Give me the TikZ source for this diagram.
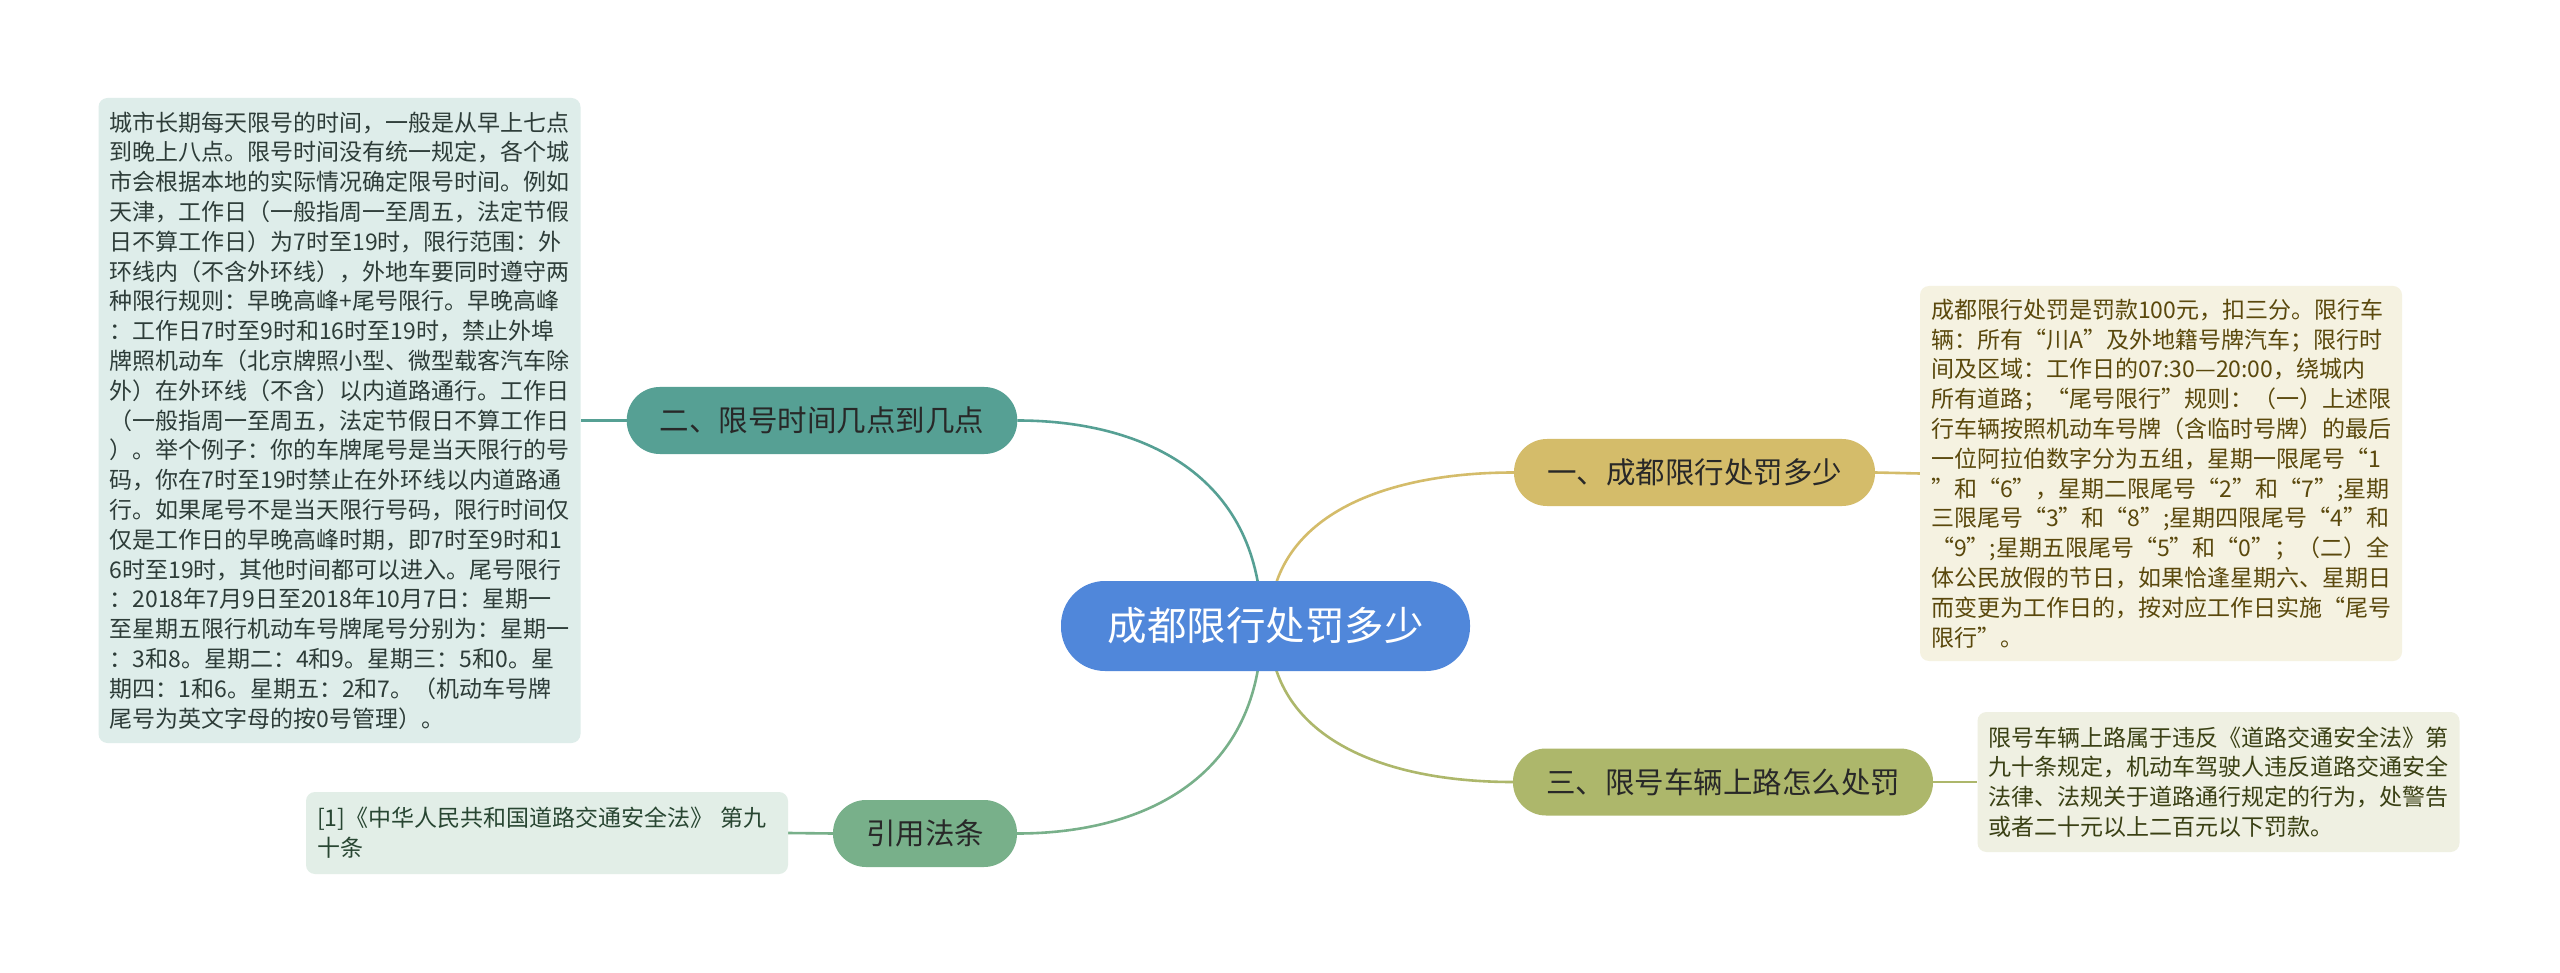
\documentclass[tikz,border=0pt]{standalone}
\usepackage{fontspec}
\setmainfont{Noto Sans CJK SC}
\usetikzlibrary{backgrounds,calc}
\definecolor{cblue}{RGB}{80,135,218}
\definecolor{cteal}{RGB}{86,160,148}
\definecolor{cgold}{RGB}{212,188,106}
\definecolor{colive}{RGB}{173,183,107}
\definecolor{cgreen}{RGB}{120,176,138}
\definecolor{fteal}{RGB}{222,237,234}
\definecolor{fgold}{RGB}{245,242,225}
\definecolor{folive}{RGB}{239,240,226}
\definecolor{fgreen}{RGB}{226,238,231}
\definecolor{tteal}{RGB}{45,60,56}
\definecolor{tgold}{RGB}{90,72,12}
\definecolor{tolive}{RGB}{58,64,20}
\definecolor{tgreen}{RGB}{40,70,50}
\definecolor{tdark}{RGB}{40,40,40}
\tikzset{
  rootbox/.style={rectangle, rounded corners=44pt, fill=cblue, text=white,
    minimum height=90pt, minimum width=409pt, inner xsep=20pt,
    font=\fontsize{39.5pt}{44pt}\selectfont},
  branchbox/.style={rectangle, rounded corners=33pt, fill=#1, text=tdark,
    minimum height=67pt, inner xsep=33pt, inner ysep=0pt,
    font=\fontsize{29.5pt}{34pt}\selectfont},
  leafbox/.style={rectangle, rounded corners=9pt, fill=#1,
    minimum width=482pt, text width=460pt, inner xsep=11pt, inner ysep=12pt,
    align=left, font=\fontsize{23pt}{29.8pt}\selectfont},
  link/.style={draw=#1, line width=2.6pt},
}
\begin{document}
\begin{tikzpicture}[x=1pt,y=-1pt]
\useasboundingbox (0,0) rectangle (2560,973);

\node[rootbox] (root) at (1265.5,626) {成都限行处罚多少};
\coordinate (rl) at ([xshift=-4pt]root.center);
\coordinate (rr) at ([xshift=4pt]root.center);

\node[branchbox=cteal] (b2) at (822,420.5) {二、限号时间几点到几点};
\node[branchbox=cgreen] (bref) at (925,833.5) {引用法条};
\node[branchbox=cgold] (b1) at (1694.5,472.5) {一、成都限行处罚多少};
\node[branchbox=colive] (b3) at (1723,782) {三、限号车辆上路怎么处罚};

\node[leafbox=fteal, text=tteal, minimum height=645pt] (l2) at (339.5,420.5) {城市长期每天限号的时间，一般是从早上七点\\
到晚上八点。限号时间没有统一规定，各个城\\
市会根据本地的实际情况确定限号时间。例如\\
天津，工作日（一般指周一至周五，法定节假\\
日不算工作日）为7时至19时，限行范围：外\\
环线内（不含外环线），外地车要同时遵守两\\
种限行规则：早晚高峰+尾号限行。早晚高峰\\
：工作日7时至9时和16时至19时，禁止外埠\\
牌照机动车（北京牌照小型、微型载客汽车除\\
外）在外环线（不含）以内道路通行。工作日\\
（一般指周一至周五，法定节假日不算工作日\\
）。举个例子：你的车牌尾号是当天限行的号\\
码，你在7时至19时禁止在外环线以内道路通\\
行。如果尾号不是当天限行号码，限行时间仅\\
仅是工作日的早晚高峰时期，即7时至9时和1\\
6时至19时，其他时间都可以进入。尾号限行\\
：2018年7月9日至2018年10月7日：星期一\\
至星期五限行机动车号牌尾号分别为：星期一\\
：3和8。星期二：4和9。星期三：5和0。星\\
期四：1和6。星期五：2和7。（机动车号牌\\
尾号为英文字母的按0号管理）。};

\node[leafbox=fgold, text=tgold, minimum height=375pt] (l1) at (2161,473.5) {成都限行处罚是罚款100元，扣三分。限行车\\
辆：所有“川A”及外地籍号牌汽车；限行时\\
间及区域：工作日的07:30—20:00，绕城内\\
所有道路；“尾号限行”规则：（一）上述限\\
行车辆按照机动车号牌（含临时号牌）的最后\\
一位阿拉伯数字分为五组，星期一限尾号“1\\
”和“6”，星期二限尾号“2”和“7”;星期\\
三限尾号“3”和“8”;星期四限尾号“4”和\\
“9”;星期五限尾号“5”和“0”；（二）全\\
体公民放假的节日，如果恰逢星期六、星期日\\
而变更为工作日的，按对应工作日实施“尾号\\
限行”。};

\node[leafbox=folive, text=tolive, minimum height=140pt] (l3) at (2218.5,782) {限号车辆上路属于违反《道路交通安全法》第\\
九十条规定，机动车驾驶人违反道路交通安全\\
法律、法规关于道路通行规定的行为，处警告\\
或者二十元以上二百元以下罚款。};

\node[leafbox=fgreen, text=tgreen, minimum height=82pt] (lref) at (547,833) {[1]《中华人民共和国道路交通安全法》 第九\\
十条};

\begin{scope}[on background layer]
\fill[white] (0,0) rectangle (2560,973);
\draw[link=cteal] (rl) .. controls ($(rl |- b2.east)!0.29!(rl)$) and ($(b2.east)!0.54!(rl |- b2.east)$) .. (b2.east);
\draw[link=cgreen] (rl) .. controls ($(rl |- bref.east)!0.29!(rl)$) and ($(bref.east)!0.54!(rl |- bref.east)$) .. (bref.east);
\draw[link=cgold] (rr) .. controls ($(rr |- b1.west)!0.29!(rr)$) and ($(b1.west)!0.54!(rr |- b1.west)$) .. (b1.west);
\draw[link=colive] (rr) .. controls ($(rr |- b3.west)!0.29!(rr)$) and ($(b3.west)!0.54!(rr |- b3.west)$) .. (b3.west);
\draw[link=cteal] (b2.west) -- (l2.east);
\draw[link=cgreen] (bref.west) -- (lref.east);
\draw[link=cgold] (b1.east) -- (l1.west);
\draw[link=colive] (b3.east) -- (l3.west);
\end{scope}
\end{tikzpicture}
\end{document}
